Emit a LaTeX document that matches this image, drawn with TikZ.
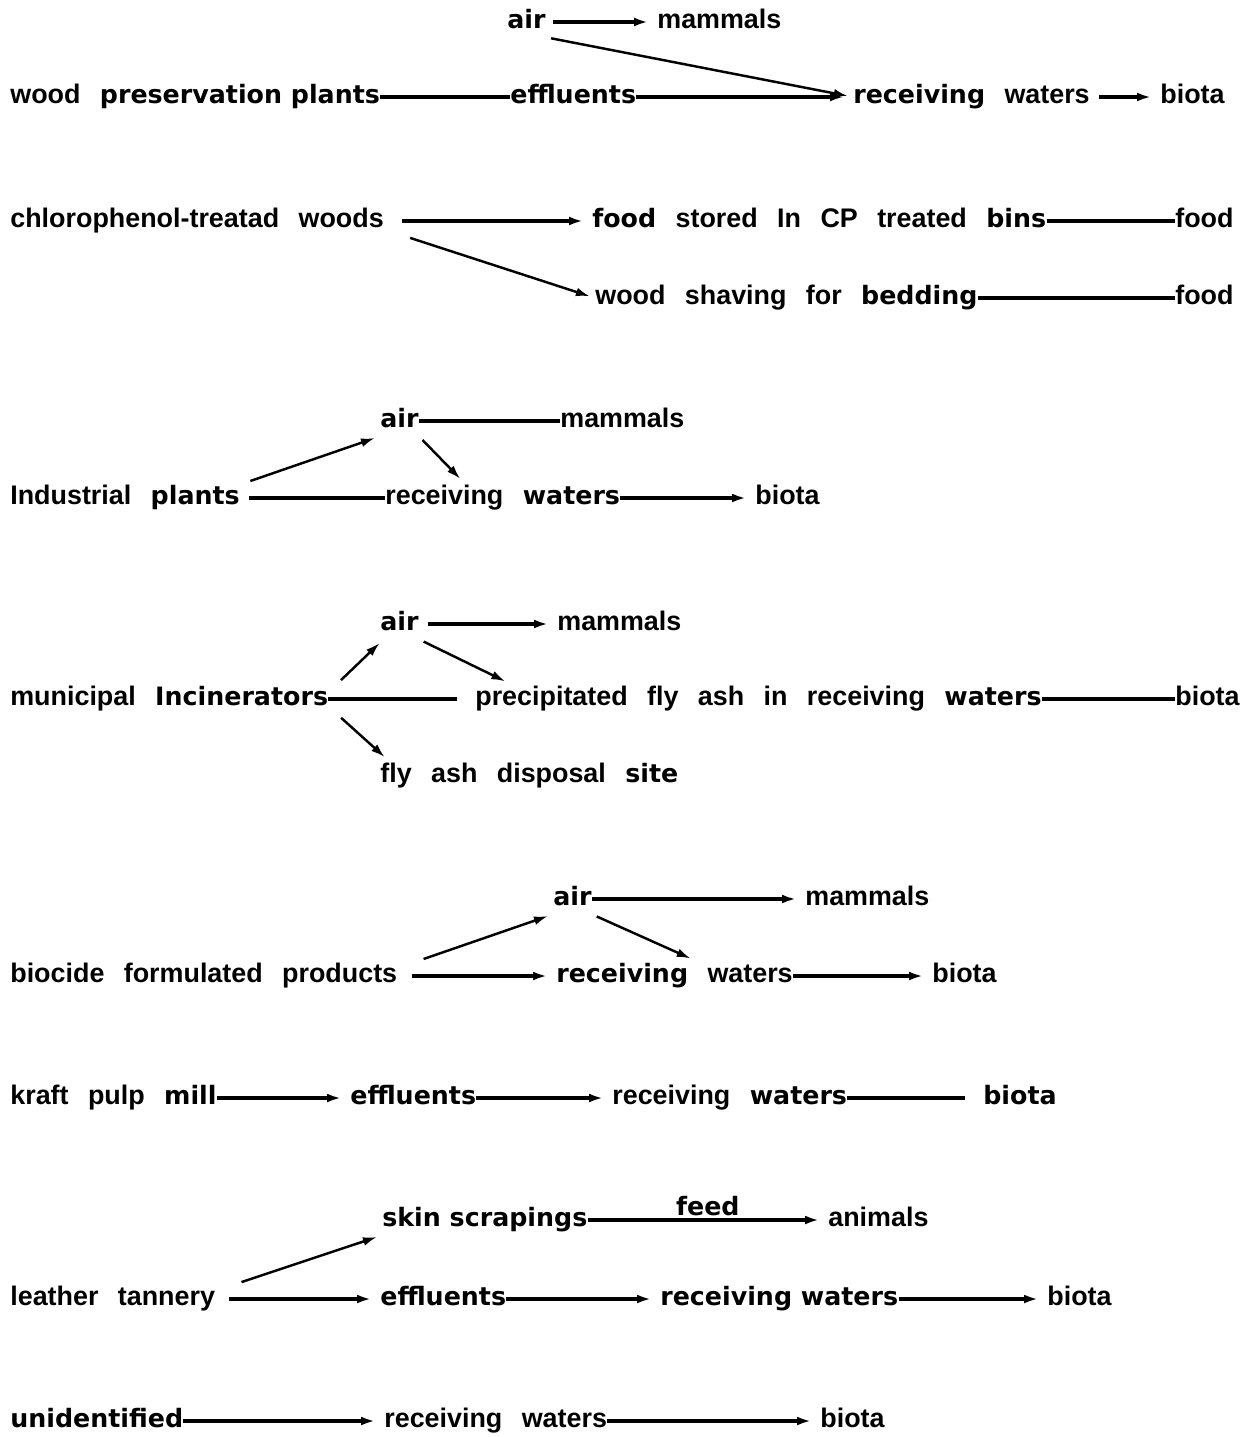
\documentclass[tikz,border=0pt]{standalone}
\usepackage{fontspec}
\setmainfont{Liberation Sans}[WordSpace=2.6]
\newfontfamily\heavyfont{DejaVu Sans}
\newcommand{\hv}[1]{{\heavyfont\bfseries\fontsize{14.4}{17}\selectfont #1}}
\usetikzlibrary{arrows.meta}
\tikzset{
  lbl/.style={anchor=west, inner sep=0pt, text height=12pt, text depth=5pt},
  link/.style={line width=1.8pt},
  flow/.style={line width=1.8pt, -{Latex[length=8pt,width=5pt]}, shorten >=5pt},
  slant/.style={line width=1.4pt, -{Latex[length=8pt,width=5pt]}, shorten <=3pt, shorten >=3pt},
}

\begin{document}
\begin{tikzpicture}[x=0.02cm, y=-0.02cm, font=\bfseries\fontsize{15.3}{18}\selectfont]
\useasboundingbox (0,0) rectangle (1259,1437);

% wood preservation plants
\node[lbl] (air1) at (507,22) {\hv{air}};
\node[lbl] (mam1) at (657,22) {mammals};
\node[lbl] (wpp) at (10,97) {wood \hv{preservation plants}};
\node[lbl] (eff1) at (510,97) {\hv{effluents}};
\node[lbl] (rw1) at (853,97) {\hv{receiving} waters};
\node[lbl] (bio1) at (1160,97) {biota};
\draw[flow] ([xshift=4pt]air1.east) -- (mam1.west);
\draw[link] (wpp.east) -- (eff1.west);
\draw[flow] (eff1.east) -- (rw1.west);
\draw[flow] ([xshift=5pt]rw1.east) -- (bio1.west);
\draw[slant] (air1.south east) -- (rw1.west);

% chlorophenol-treated woods
\node[lbl] (cpw) at (10,221) {chlorophenol-treatad woods};
\node[lbl] (bins) at (592,221) {\hv{food} stored In CP treated \hv{bins}};
\node[lbl] (food1) at (1175,221) {food};
\node[lbl] (shav) at (595,298) {wood shaving for \hv{bedding}};
\node[lbl] (food2) at (1175,298) {food};
\draw[flow] ([xshift=10pt]cpw.east) -- (bins.west);
\draw[link] (bins.east) -- (food1.west);
\draw[slant] ([xshift=12pt]cpw.south east) -- (shav.west);
\draw[link] (shav.east) -- (food2.west);

% industrial plants
\node[lbl] (air2) at (380,421) {\hv{air}};
\node[lbl] (mam2) at (560,421) {mammals};
\node[lbl] (ind) at (10,498) {Industrial \hv{plants}};
\node[lbl] (rw2) at (385,498) {receiving \hv{waters}};
\node[lbl] (bio2) at (755,498) {biota};
\draw[link] (air2.east) -- (mam2.west);
\draw[link] ([xshift=5pt]ind.east) -- (rw2.west);
\draw[flow] (rw2.east) -- (bio2.west);
\draw[slant] ([xshift=3pt]ind.north east) -- (air2.south west);
\draw[slant] (air2.south east) -- ([xshift=-22pt]rw2.north);

% municipal incinerators
\node[lbl] (air3) at (380,624) {\hv{air}};
\node[lbl] (mam3) at (557,624) {mammals};
\node[lbl] (inc) at (10,699) {municipal \hv{Incinerators}};
\node[lbl] (pfa) at (475,699) {precipitated fly ash in receiving \hv{waters}};
\node[lbl] (bio3) at (1175,699) {biota};
\node[lbl] (fad) at (380,776) {fly ash disposal \hv{site}};
\draw[flow] ([xshift=5pt]air3.east) -- (mam3.west);
\draw[link] (inc.east) -- ([xshift=-10pt]pfa.west);
\draw[link] (pfa.east) -- (bio3.west);
\draw[slant] ([xshift=5pt]inc.north east) -- ([xshift=2pt]air3.south west);
\draw[slant] (air3.south east) -- ([xshift=20pt]pfa.north west);
\draw[slant] ([xshift=5pt]inc.south east) -- ([xshift=5pt]fad.north west);

% biocide formulated products
\node[lbl] (air4) at (553,899) {\hv{air}};
\node[lbl] (mam4) at (805,899) {mammals};
\node[lbl] (bfp) at (10,976) {biocide formulated products};
\node[lbl] (rw3) at (556,976) {\hv{receiving} waters};
\node[lbl] (bio4) at (932,976) {biota};
\draw[flow] (air4.east) -- (mam4.west);
\draw[flow] ([xshift=8pt]bfp.east) -- (rw3.west);
\draw[flow] (rw3.east) -- (bio4.west);
\draw[slant] ([xshift=12pt]bfp.north east) -- (air4.south west);
\draw[slant] (air4.south east) -- ([xshift=12pt]rw3.north);

% kraft pulp mill
\node[lbl] (kpm) at (10,1098) {kraft pulp \hv{mill}};
\node[lbl] (eff2) at (350,1098) {\hv{effluents}};
\node[lbl] (rw4) at (612,1098) {receiving \hv{waters}};
\node[lbl] (bio5) at (983,1098) {\hv{biota}};
\draw[flow] (kpm.east) -- (eff2.west);
\draw[flow] (eff2.east) -- (rw4.west);
\draw[link] (rw4.east) -- ([xshift=-10pt]bio5.west);

% leather tannery
\node[lbl] (skin) at (382,1220) {\hv{skin scrapings}};
\node[lbl] (anim) at (828,1220) {animals};
\node[lbl] (lth) at (10,1299) {leather tannery};
\node[lbl] (eff3) at (380,1299) {\hv{effluents}};
\node[lbl] (rw5) at (660,1299) {\hv{receiving waters}};
\node[lbl] (bio6) at (1047,1299) {biota};
\draw[flow] (skin.east) -- node[above=1.5pt, inner sep=0pt] {\hv{feed}} (anim.west);
\draw[flow] ([xshift=8pt]lth.east) -- (eff3.west);
\draw[flow] (eff3.east) -- (rw5.west);
\draw[flow] (rw5.east) -- (bio6.west);
\draw[slant] ([xshift=12pt]lth.north east) -- (skin.south west);

% unidentified
\node[lbl] (unid) at (10,1421) {\hv{unidentified}};
\node[lbl] (rw6) at (384,1421) {receiving waters};
\node[lbl] (bio7) at (820,1421) {biota};
\draw[flow] (unid.east) -- (rw6.west);
\draw[flow] (rw6.east) -- (bio7.west);
\end{tikzpicture}
\end{document}
